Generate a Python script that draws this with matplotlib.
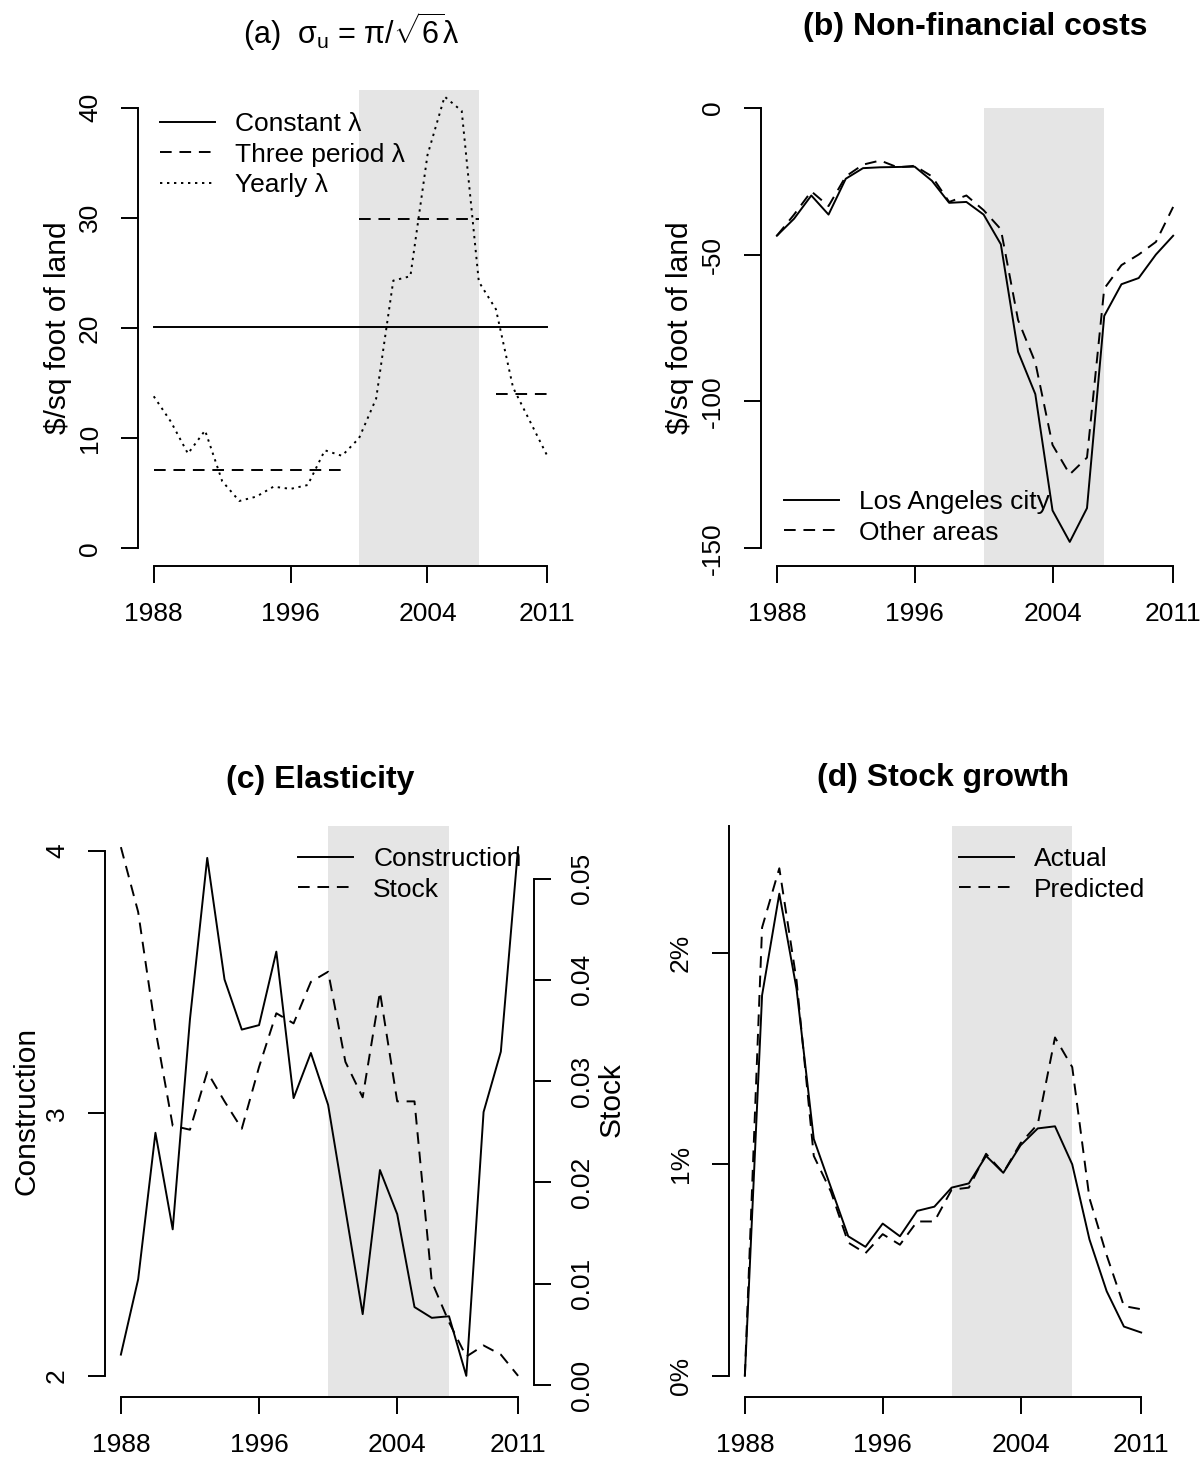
import numpy as np
import matplotlib
matplotlib.use("Agg")
import matplotlib.pyplot as plt

plt.rcParams["font.family"] = ["Liberation Sans", "DejaVu Sans"]
plt.rcParams["mathtext.fontset"] = "custom"
plt.rcParams["mathtext.rm"] = "Liberation Sans"
plt.rcParams["mathtext.it"] = "Liberation Sans"
plt.rcParams["axes.unicode_minus"] = False

years = np.arange(1988, 2012)
xticks = [1988, 1996, 2004, 2011]
shade = (2000, 2007)

# (a) lambda
yearly_lambda = [13.8, 11.5, 8.6, 10.7, 6.1, 4.3, 4.7, 5.6, 5.4, 5.75, 8.9, 8.4,
                 10.0, 13.6, 24.3, 24.7, 35.7, 41.0, 39.7, 24.2, 21.7, 14.6, 11.5, 8.4]
constant_lambda = 20.1
period_starts = [1988, 2000, 2008]
period_ends = [1999, 2007, 2011]
period_lambda = [7.15, 29.9, 14.0]

# (b) non-financial costs
la_city = [-43.6, -37.8, -29.9, -36.4, -24.2, -20.6, -20.3, -20.2, -20.1, -24.9, -32.4, -32.1,
           -36.4, -46.5, -83.1, -97.5, -137.1, -147.8, -136.3, -70.9, -60.1, -58.0, -50.0, -43.6]
other_areas = [-43.6, -36.4, -28.5, -33.5, -23.4, -19.4, -18.0, -20.3, -19.8, -23.4, -32.1, -29.9,
               -34.9, -41.4, -72.3, -86.7, -114.8, -124.8, -119.1, -61.6, -53.6, -50.0, -45.7, -33.8]

# (c) elasticity
construction = [2.081, 2.368, 2.926, 2.558, 3.359, 3.973, 3.510, 3.319, 3.336, 3.616, 3.058, 3.230,
                3.032, 2.634, 2.235, 2.784, 2.616, 2.262, 2.221, 2.227, 2.0, 3.005, 3.235, 4.014]
stock_elast = [0.0531, 0.0467, 0.0351, 0.0256, 0.0252, 0.0309, 0.0280, 0.0253, 0.0314, 0.0367, 0.0357, 0.0398,
               0.0408, 0.0319, 0.0284, 0.0388, 0.0280, 0.0280, 0.0102, 0.0062, 0.0028, 0.0039, 0.0030, 0.0009]

# (d) stock growth, percent
actual = [0.0, 1.80, 2.28, 1.83, 1.12, 0.89, 0.66, 0.61, 0.72, 0.66, 0.78, 0.80,
          0.89, 0.91, 1.04, 0.96, 1.09, 1.17, 1.18, 1.00, 0.645, 0.40, 0.233, 0.205]
predicted = [0.0, 2.12, 2.40, 1.87, 1.04, 0.87, 0.63, 0.58, 0.67, 0.62, 0.73, 0.73,
             0.88, 0.89, 1.05, 0.96, 1.10, 1.19, 1.60, 1.46, 0.84, 0.57, 0.33, 0.315]

W, H = 1201, 1468
TICK_FS = 19
LEG_FS = 19
LAB_FS = 21.5
TITLE_FS = 23
LW = 1.4
TICK_LEN = 12
DASH = (0, (6, 4))
DOT = (0, (1.2, 2.4))
GRAY = "#e5e5e5"

fig = plt.figure(figsize=(W / 100, H / 100), dpi=100)


def make_ax(left, top, right, bottom):
    return fig.add_axes([left / W, 1 - bottom / H, (right - left) / W, (bottom - top) / H])


def r_pad(lo, hi):
    d = (hi - lo) * 0.04
    return lo - d, hi + d


def rotate_yticks(ax):
    for lab in ax.get_yticklabels():
        lab.set_rotation(90)
        lab.set_va("center")


def style_ax(ax, ylo, yhi, yticks, yticklabels=None):
    ax.set_xlim(r_pad(1988, 2011))
    ax.set_ylim(r_pad(ylo, yhi))
    for s in ["top", "right"]:
        ax.spines[s].set_visible(False)
    for s in ["left", "bottom"]:
        ax.spines[s].set_linewidth(LW)
    ax.spines["bottom"].set_bounds(1988, 2011)
    ax.spines["left"].set_bounds(yticks[0], yticks[-1])
    ax.set_xticks(xticks)
    ax.set_yticks(yticks)
    if yticklabels is not None:
        ax.set_yticklabels(yticklabels)
    ax.tick_params(direction="out", length=TICK_LEN, width=LW, labelsize=TICK_FS)
    ax.tick_params(axis="x", pad=14)
    ax.tick_params(axis="y", pad=14)
    rotate_yticks(ax)


def legend(ax, x, y, handles=None):
    kw = dict(loc="upper left", bbox_to_anchor=(x / W, 1 - y / H), bbox_transform=fig.transFigure,
              frameon=False, fontsize=LEG_FS, handlelength=2.1, handletextpad=0.75,
              labelspacing=0.25, borderpad=0, borderaxespad=0)
    if handles is not None:
        ax.legend(handles=handles, **kw)
    else:
        ax.legend(**kw)


# (a)
ax = make_ax(138, 90, 563, 566)
ax.axvspan(*shade, color=GRAY, lw=0, zorder=0)
ax.plot([1988, 2011], [constant_lambda] * 2, color="black", lw=LW, label="Constant λ")
for i, (s, e, v) in enumerate(zip(period_starts, period_ends, period_lambda)):
    ax.plot([s, e], [v, v], color="black", lw=LW, ls=DASH, label="Three period λ" if i == 0 else None)
ax.plot(years, yearly_lambda, color="black", lw=LW, ls=DOT, label="Yearly λ")
style_ax(ax, 0, 40, [0, 10, 20, 30, 40])
legend(ax, 160, 112)
fig.text(58 / W, 1 - 328 / H, "$/sq foot of land", rotation=90, ha="center", va="center", fontsize=LAB_FS)
fig.text(351 / W, 1 - 32 / H, r"(a)  $\sigma_{\mathrm{u}}$ = $\pi/\sqrt{6}\lambda$",
         ha="center", va="center", fontsize=TITLE_FS - 1)

# (b)
ax = make_ax(761, 90, 1189, 566)
ax.fill_between(shade, -200, 0, color=GRAY, lw=0, zorder=0)
ax.plot(years, la_city, color="black", lw=LW, label="Los Angeles city")
ax.plot(years, other_areas, color="black", lw=LW, ls=DASH, label="Other areas")
style_ax(ax, -150, 0, [-150, -100, -50, 0])
legend(ax, 784, 490)
fig.text(680 / W, 1 - 328 / H, "$/sq foot of land", rotation=90, ha="center", va="center", fontsize=LAB_FS)
fig.text(975 / W, 1 - 27 / H, "(b) Non-financial costs", ha="center", va="center",
         fontsize=TITLE_FS, fontweight="bold")

# (c)
ax = make_ax(105, 826, 534, 1397)
ax.axvspan(*shade, color=GRAY, lw=0, zorder=0)
l1, = ax.plot(years, construction, color="black", lw=LW, label="Construction")
style_ax(ax, min(construction), max(construction), [2, 3, 4])
ax2 = ax.twinx()
l2, = ax2.plot(years, stock_elast, color="black", lw=LW, ls=DASH, label="Stock")
ax2.set_ylim(r_pad(min(stock_elast), max(stock_elast)))
for s in ["top", "left", "bottom"]:
    ax2.spines[s].set_visible(False)
ax2.spines["right"].set_linewidth(LW)
ax2.spines["right"].set_bounds(0, 0.05)
ax2.set_yticks([0, 0.01, 0.02, 0.03, 0.04, 0.05])
ax2.set_yticklabels(["0.00", "0.01", "0.02", "0.03", "0.04", "0.05"])
ax2.tick_params(direction="out", length=TICK_LEN, width=LW, labelsize=TICK_FS, pad=14)
rotate_yticks(ax2)
legend(ax2, 298, 847, handles=[l1, l2])
fig.text(26 / W, 1 - 1111 / H, "Construction", rotation=90, ha="center", va="center", fontsize=LAB_FS)
fig.text(612 / W, 1 - 1100 / H, "Stock", rotation=90, ha="center", va="center", fontsize=LAB_FS)
fig.text(320 / W, 1 - 780 / H, "(c) Elasticity", ha="center", va="center",
         fontsize=TITLE_FS, fontweight="bold")

# (d)
ax = make_ax(729, 826, 1157, 1397)
ax.axvspan(*shade, color=GRAY, lw=0, zorder=0)
ax.plot(years, actual, color="black", lw=LW, label="Actual")
ax.plot(years, predicted, color="black", lw=LW, ls=DASH, label="Predicted")
style_ax(ax, 0, 2.5, [0, 1, 2], ["0%", "1%", "2%"])
ax.spines["left"].set_bounds(0, ax.get_ylim()[1])
legend(ax, 959, 847)
fig.text(943 / W, 1 - 778 / H, "(d) Stock growth", ha="center", va="center",
         fontsize=TITLE_FS, fontweight="bold")

fig.savefig("out.png", dpi=100)
